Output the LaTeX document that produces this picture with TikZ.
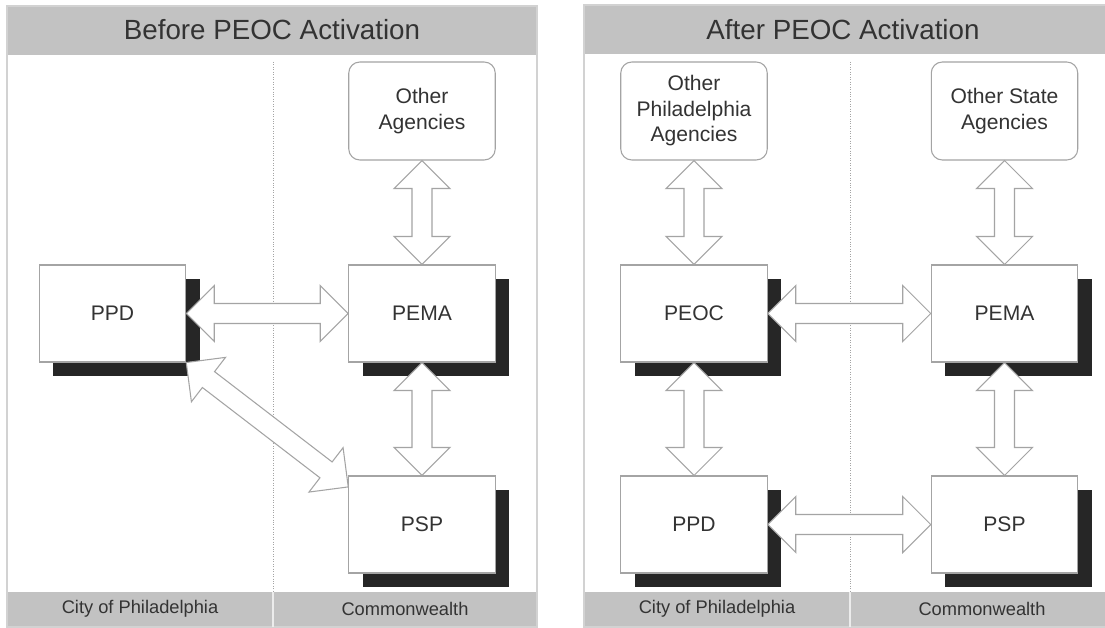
\documentclass[tikz,border=0pt]{standalone}
\usepackage{fontspec}
\setmainfont{Liberation Sans}
\usetikzlibrary{calc,shadows}

\definecolor{bandgray}{HTML}{C2C2C2}
\definecolor{framegray}{HTML}{D2D2D2}
\definecolor{linegray}{HTML}{A4A4A4}
\definecolor{shadowgray}{HTML}{262626}
\definecolor{textgray}{HTML}{333333}

\newcommand{\fatHeadLen}{0.56cm}
\newcommand{\fatHeadWid}{0.56cm}
\newcommand{\fatShaftWid}{0.2cm}

% hollow double arrow between two named points
\newcommand{\dblarrow}[2]{%
  \draw[arrowbody] (#1)
    -- ($(#1)!\fatHeadLen!(#2)!\fatHeadWid!90:(#2)$)
    -- ($(#1)!\fatHeadLen!(#2)!\fatShaftWid!90:(#2)$)
    -- ($(#2)!\fatHeadLen!(#1)!\fatShaftWid!-90:(#1)$)
    -- ($(#2)!\fatHeadLen!(#1)!\fatHeadWid!-90:(#1)$)
    -- (#2)
    -- ($(#2)!\fatHeadLen!(#1)!\fatHeadWid!90:(#1)$)
    -- ($(#2)!\fatHeadLen!(#1)!\fatShaftWid!90:(#1)$)
    -- ($(#1)!\fatHeadLen!(#2)!\fatShaftWid!-90:(#2)$)
    -- ($(#1)!\fatHeadLen!(#2)!\fatHeadWid!-90:(#2)$)
    -- cycle;%
}

\begin{document}
\begin{tikzpicture}[x=0.02cm, y=-0.02cm,
    unitbox/.style={draw=linegray, line width=0.6pt, fill=white, text=textgray,
      minimum width=2.93cm, minimum height=1.94cm, align=center,
      font=\fontsize{12}{14.5}\selectfont,
      drop shadow={shadow xshift=0.28cm, shadow yshift=-0.28cm, fill=shadowgray, opacity=1}},
    agency/.style={draw=linegray, line width=0.6pt, fill=white, text=textgray,
      rounded corners=0.22cm, minimum width=2.93cm, minimum height=1.96cm, align=center,
      font=\fontsize{12}{14.5}\selectfont},
    arrowbody/.style={draw=linegray, line width=0.6pt, fill=white, line join=miter},
    bandtext/.style={text=textgray, font=\fontsize{10.4}{12}\selectfont},
    titletext/.style={text=textgray, font=\fontsize{15.8}{19}\selectfont}]

        \useasboundingbox (0, 0) rectangle (1105, 628);
        \clip (0, 0) rectangle (1105, 628);
        \fill[white] (0, 0) rectangle (1105, 628);

        % Panels
        \fill[bandgray] (7, 6) rectangle (537, 55);
        \fill[bandgray] (7, 592) rectangle (537, 627);
        \fill[bandgray] (584, 5) rectangle (1114, 54);
        \fill[bandgray] (584, 592) rectangle (1114, 627);
        \draw[framegray, line width=1pt] (7, 6) rectangle (537, 627);
        \draw[framegray, line width=1pt] (584, 5) rectangle (1114, 627);

        % Dividers
        \draw[linegray, densely dotted] (273, 62) -- (273, 592);
        \draw[white!85!gray, line width=1pt] (273, 592) -- (273, 627);
        \draw[linegray, densely dotted] (850, 62) -- (850, 592);
        \draw[white!85!gray, line width=1pt] (850, 592) -- (850, 627);

        % Titles and bands
        \node[titletext] (beforeTitle) at (272, 30) {Before PEOC Activation};
        \node[titletext] (afterTitle) at (843, 30) {After PEOC Activation};
        \node[bandtext] (cityL) at (140, 609) {City of Philadelphia};
        \node[bandtext] (commonL) at (405, 609) {Commonwealth};
        \node[bandtext] (cityR) at (717, 609) {City of Philadelphia};
        \node[bandtext] (commonR) at (982, 609) {Commonwealth};

        % Before: boxes
        \node[agency] (otherL) at (422, 111) {Other\\Agencies};
        \node[unitbox] (pemaL) at (422, 313.5) {PEMA};
        \node[unitbox] (ppdL) at (112.5, 313.5) {PPD};
        \node[unitbox] (pspL) at (422, 524.5) {PSP};

        % After: boxes
        \node[agency] (otherPhil) at (694, 111) {Other\\Philadelphia\\Agencies};
        \node[agency] (otherState) at (1004.5, 111) {Other State\\Agencies};
        \node[unitbox] (peoc) at (694, 313.5) {PEOC};
        \node[unitbox] (pemaR) at (1004.5, 313.5) {PEMA};
        \node[unitbox] (ppdR) at (694, 524.5) {PPD};
        \node[unitbox] (pspR) at (1004.5, 524.5) {PSP};

        % Before: arrows
        \dblarrow{otherL.south}{pemaL.north}
        \dblarrow{ppdL.east}{pemaL.west}
        \dblarrow{ppdL.south east}{pspL.153}
        \dblarrow{pemaL.south}{pspL.north}

        % After: arrows
        \dblarrow{otherPhil.south}{peoc.north}
        \dblarrow{otherState.south}{pemaR.north}
        \dblarrow{peoc.east}{pemaR.west}
        \dblarrow{peoc.south}{ppdR.north}
        \dblarrow{pemaR.south}{pspR.north}
        \dblarrow{ppdR.east}{pspR.west}

\end{tikzpicture}
\end{document}
